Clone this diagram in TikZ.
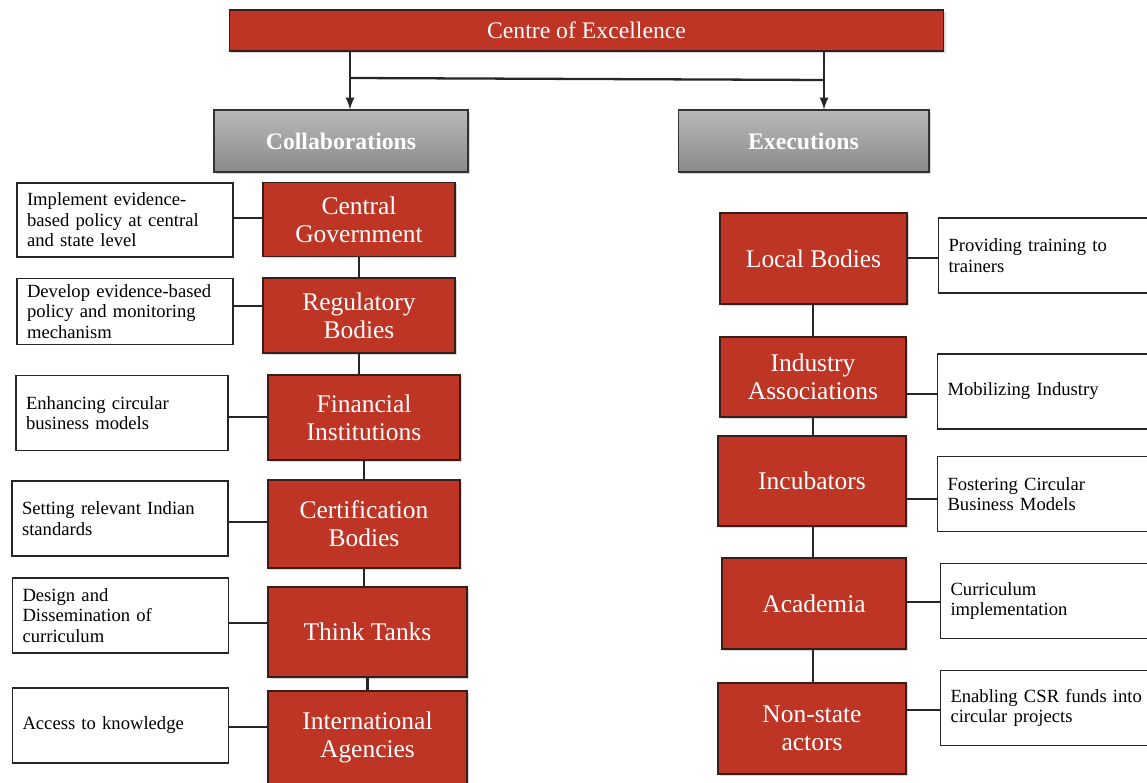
\documentclass[tikz,border=0pt]{standalone}
\usepackage{fontspec}
\setmainfont{Liberation Serif}
\usetikzlibrary{shadows}

\definecolor{coered}{RGB}{190,53,37}
\definecolor{coeedge}{RGB}{55,30,25}

\tikzset{
  redbox/.style={draw=coeedge, line width=0.6pt, fill=coered, text=white, align=center,
    font=\fontsize{14.5}{16}\selectfont,
    drop shadow={opacity=0.3, shadow xshift=1pt, shadow yshift=-1pt}},
  greybox/.style={draw=black!80, line width=0.6pt, top color=gray!55, bottom color=gray!92,
    text=white, font=\bfseries\fontsize{13.5}{15}\selectfont,
    drop shadow={opacity=0.3, shadow xshift=1pt, shadow yshift=-1pt}},
  notebox/.style={draw=black!85, line width=0.6pt, fill=white, align=left,
    text width=3.92cm, inner xsep=0.2cm, minimum height=1.5cm,
    font=\fontsize{10.6}{11.6}\selectfont},
  link/.style={line width=1.3pt, black!85}
}

\begin{document}
\begin{tikzpicture}[x=0.02cm,y=-0.02cm]
  \useasboundingbox (0,0) rectangle (1147,783);

  % Centre of Excellence
  \node[redbox, minimum width=14.3cm, minimum height=0.82cm, font=\fontsize{13.5}{15}\selectfont]
    (top) at (586.5,30.5) {Centre of Excellence};

  % two branches
  \node[greybox, minimum width=5.08cm, minimum height=1.24cm] (collab) at (341,141) {Collaborations};
  \node[greybox, minimum width=5.02cm, minimum height=1.24cm] (exec) at (803.5,141) {Executions};

  \coordinate (splitL) at (350,78);
  \coordinate (splitR) at (824,80);
  \draw[link,-latex] (top.south -| splitL) -- (collab.north -| splitL);
  \draw[link,-latex] (top.south -| splitR) -- (exec.north -| splitR);
  \draw[link] (splitL) -- (splitR);

  % Collaborations column
  \node[redbox, minimum width=3.84cm, minimum height=1.48cm] (cg) at (359,219.5) {Central\\Government};
  \node[redbox, minimum width=3.84cm, minimum height=1.5cm] (rb) at (359,315.5) {Regulatory\\Bodies};
  \node[redbox, minimum width=3.84cm, minimum height=1.7cm] (fi) at (364,417.5) {Financial\\Institutions};
  \node[redbox, minimum width=3.84cm, minimum height=1.76cm] (cb) at (364,524) {Certification\\Bodies};
  \node[redbox, minimum width=3.98cm, minimum height=1.8cm] (tt) at (367.5,632) {Think Tanks};
  \node[redbox, minimum width=3.98cm, minimum height=1.86cm] (ia) at (367.5,737.5) {International\\Agencies};

  \draw[link] (cg.south) -- (cg.south |- rb.north);
  \draw[link] (rb.south) -- (rb.south |- fi.north);
  \draw[link] (fi.south) -- (fi.south |- cb.north);
  \draw[link] (cb.south) -- (cb.south |- tt.north);
  \draw[link] (tt.south) -- (tt.south |- ia.north);

  % Collaborations notes
  \node[notebox, minimum height=1.48cm] (cgnote) at (125,220) {Implement evidence-\\based policy at central\\and state level};
  \node[notebox, minimum height=1.3cm] (rbnote) at (125,311.5) {Develop evidence-based\\policy and monitoring\\mechanism};
  \node[notebox, text width=3.84cm] (finote) at (122,413) {Enhancing circular\\business models};
  \node[notebox] (cbnote) at (120,518.5) {Setting relevant Indian\\standards};
  \node[notebox] (ttnote) at (120.5,615.5) {Design and\\Dissemination of\\curriculum};
  \node[notebox] (ianote) at (120.5,725.5) {Access to knowledge};

  \draw[link] (cg.west |- 0,218) -- (cgnote.east |- 0,218);
  \draw[link] (rb.west |- 0,306) -- (rbnote.east |- 0,306);
  \draw[link] (fi.west |- 0,417) -- (finote.east |- 0,417);
  \draw[link] (cb.west |- 0,522) -- (cbnote.east |- 0,522);
  \draw[link] (tt.west |- 0,623) -- (ttnote.east |- 0,623);
  \draw[link] (ia.west |- 0,727) -- (ianote.east |- 0,727);

  % Executions column
  \node[redbox, minimum width=3.74cm, minimum height=1.82cm] (lb) at (813.5,258.5) {Local Bodies};
  \node[redbox, minimum width=3.72cm, minimum height=1.6cm] (ias) at (813,377) {Industry\\Associations};
  \node[redbox, minimum width=3.76cm, minimum height=1.8cm] (inc) at (812,481) {Incubators};
  \node[redbox, minimum width=3.68cm, minimum height=1.82cm] (ac) at (814,603.5) {Academia};
  \node[redbox, minimum width=3.76cm, minimum height=1.82cm] (ns) at (812,728.5) {Non-state\\actors};

  \draw[link] (lb.south -| 813,0) -- (ias.north -| 813,0);
  \draw[link] (ias.south -| 813,0) -- (inc.north -| 813,0);
  \draw[link] (inc.south -| 813,0) -- (ac.north -| 813,0);
  \draw[link] (ac.south -| 813,0) -- (ns.north -| 813,0);

  % Executions notes
  \node[notebox] (lbnote) at (1046.5,255.5) {Providing training to\\trainers};
  \node[notebox] (iasnote) at (1045.5,391.5) {Mobilizing Industry};
  \node[notebox] (incnote) at (1045.5,494) {Fostering Circular\\Business Models};
  \node[notebox] (acnote) at (1048.5,601) {Curriculum\\implementation};
  \node[notebox] (nsnote) at (1048.5,708) {Enabling CSR funds into\\circular projects};

  \draw[link] (lb.east |- 0,258) -- (lbnote.west |- 0,258);
  \draw[link] (ias.east |- 0,394) -- (iasnote.west |- 0,394);
  \draw[link] (inc.east |- 0,499) -- (incnote.west |- 0,499);
  \draw[link] (ac.east |- 0,602) -- (acnote.west |- 0,602);
  \draw[link] (ns.east |- 0,710) -- (nsnote.west |- 0,710);
\end{tikzpicture}
\end{document}
